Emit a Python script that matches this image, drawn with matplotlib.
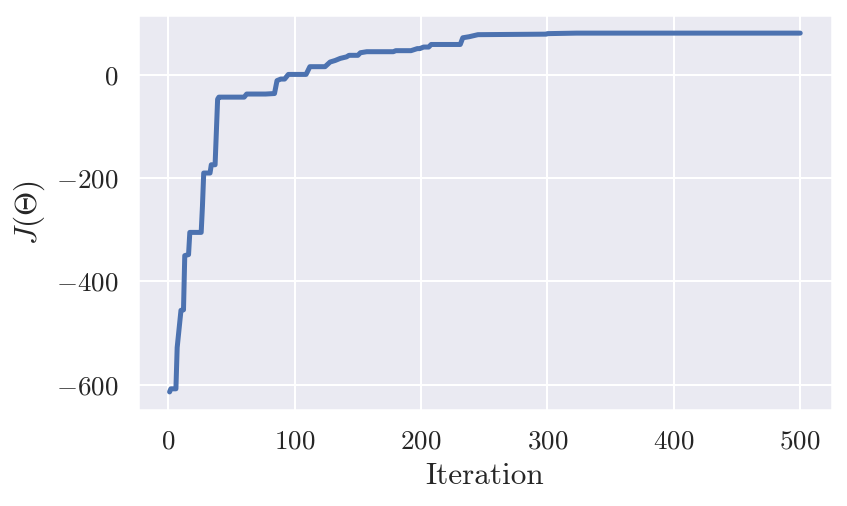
import matplotlib
matplotlib.use("Agg")
import matplotlib.pyplot as plt
import seaborn as sns

# best objective value so far
iterations = [1, 2, 6, 7, 10, 12, 13, 16, 17, 26, 27, 28, 33, 34, 37, 39, 40,
              60, 62, 77, 84, 86, 89, 92, 95, 109, 112, 124, 128, 132, 136,
              141, 143, 150, 152, 157, 178, 180, 192, 197, 199, 202, 206, 208,
              231, 233, 238, 245, 299, 300, 323, 500]
objective = [-614, -608, -608, -528, -456, -455, -350, -348, -305, -305, -254,
             -190, -190, -174, -174, -47, -43, -43, -37, -37, -36, -11, -8,
             -8, 1, 1, 16, 16, 25, 28, 32, 35, 38, 38, 43, 45, 45, 47, 47, 51,
             51, 54, 54, 59, 59, 72, 74, 78, 79, 80, 81, 81]

x_ticks = [0, 100, 200, 300, 400, 500]
y_ticks = [-600, -400, -200, 0]

sns.set_theme(style="darkgrid")
plt.rcParams["font.family"] = "serif"
plt.rcParams["font.serif"] = ["cmr10", "DejaVu Serif"]
plt.rcParams["mathtext.fontset"] = "cm"
plt.rcParams["axes.formatter.use_mathtext"] = True
plt.rcParams["axes.unicode_minus"] = True

fig = plt.figure(figsize=(847 / 150, 506 / 150), dpi=150)
ax = fig.add_axes([0.163, 0.19, 0.819, 0.78])
ax.plot(iterations, objective, color="#4c72b0", linewidth=2.4)

ax.set_xticks(x_ticks)
ax.set_yticks(y_ticks)
ax.tick_params(labelsize=13)
ax.set_xlabel("Iteration", fontsize=15, labelpad=4)
ax.set_ylabel(r"$J(\Theta)$", fontsize=15)

fig.savefig("out.png", dpi=150)
